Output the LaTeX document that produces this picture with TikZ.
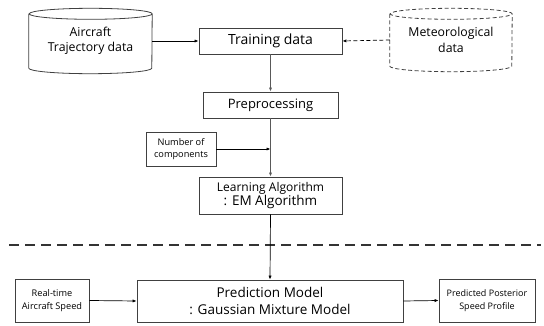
\documentclass[tikz,border=0pt]{standalone}
\usepackage{fontspec}
\setmainfont{Open Sans}
\usetikzlibrary{arrows.meta}
\begin{document}
\begin{tikzpicture}[x=1pt,y=1pt,
  box/.style={draw=black!75, line width=0.8pt, inner sep=0pt, align=center, fill=white},
  cyl/.style={inner sep=0pt, align=center},
  arr/.style={-{Latex[length=4pt,width=3.2pt]}, line width=0.7pt, black},
  flow/.style={line width=1pt, draw=black!65},
  fs/.style 2 args={font=\fontsize{#1}{#2}\selectfont}
]
\useasboundingbox (0,0) rectangle (544,-326);
% cylinders
\node[cyl, minimum width=123pt, minimum height=65pt, fs={12.3}{15.5}] (traj) at (90.5,-41) {Aircraft\\Trajectory data};
\draw[black!75, line width=0.8pt] ([yshift=-5.5pt]traj.north west) -- ([yshift=5.5pt]traj.south west)
  arc[start angle=180, end angle=360, x radius=61.5pt, y radius=5.5pt]
  -- ([yshift=-5.5pt]traj.north east)
  arc[start angle=0, end angle=360, x radius=61.5pt, y radius=5.5pt];
\node[cyl, minimum width=122pt, minimum height=63pt, fs={12.3}{15.5}] (met) at (451,-40) {Meteorological\\data};
\draw[black!75, line width=0.8pt, dash pattern=on 4pt off 2.5pt] ([yshift=-5.5pt]met.north west) -- ([yshift=5.5pt]met.south west)
  arc[start angle=180, end angle=360, x radius=61pt, y radius=5.5pt]
  -- ([yshift=-5.5pt]met.north east)
  arc[start angle=0, end angle=360, x radius=61pt, y radius=5.5pt];
% boxes
\node[box, minimum width=143pt, minimum height=26pt, fs={14}{17}] (train) at (270.5,-41) {Training data};
\node[box, minimum width=135pt, minimum height=26pt, fs={13}{16}] (pre) at (270.5,-105) {Preprocessing};
\node[box, minimum width=70pt, minimum height=34pt, fs={9.2}{12.5}] (nc) at (181,-149) {Number of\\components};
\node[box, minimum width=143pt, minimum height=37pt] (learn) at (270.5,-195.5) {\fontsize{12}{15}\selectfont Learning Algorithm\\[-1pt]\fontsize{13.5}{15}\selectfont : EM Algorithm};
\node[box, minimum width=266pt, minimum height=42pt, fs={13.5}{17}] (pred) at (270,-301) {Prediction Model\\: Gaussian Mixture Model};
\node[box, minimum width=74pt, minimum height=43pt, fs={9.2}{13}] (rt) at (52,-300.5) {Real-time\\Aircraft Speed};
\node[box, minimum width=96pt, minimum height=43pt, fs={9}{13}] (post) at (487,-300.5) {Predicted Posterior\\Speed Profile};
% dashed separator
\coordinate (sepL) at (9,-245);
\coordinate (sepR) at (541,-245);
\draw[line width=2pt, black!80, dash pattern=on 10pt off 6pt] (sepL) -- (sepR);
% connectors
\draw[arr] (traj.east) -- (train.west);
\draw[arr, dash pattern=on 4pt off 2.5pt] (met.west) -- (train.east);
\draw[flow, -{Latex[length=4pt,width=3.2pt]}] (train.south) -- (pre.north);
\draw[flow, -{Latex[length=4pt,width=3.2pt]}] (pre.south) -- (learn.north);
\draw[arr] (nc.east) -- (nc.east -| pre.south);
\draw[arr] (learn.south) -- (pred.north);
\draw[arr] (rt.east) -- (pred.west);
\draw[arr] (pred.east) -- (post.west);
\end{tikzpicture}
\end{document}
